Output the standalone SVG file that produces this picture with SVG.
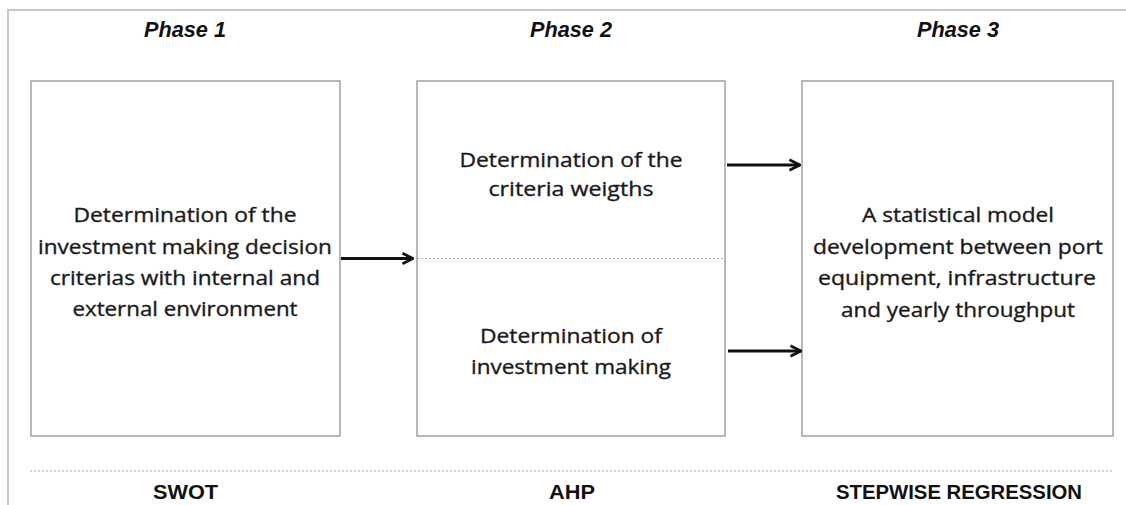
<svg xmlns="http://www.w3.org/2000/svg" width="1126" height="505" viewBox="0 0 1126 505">
<defs>
<style>
.frame{fill:none;stroke:#c8c8c8;stroke-width:2}
.box{fill:#fff;stroke:#9a9a9a;stroke-width:1.4}
.dot{stroke:#aaa;stroke-width:1;stroke-dasharray:2 2;fill:none}
.arrow{stroke:#111;stroke-width:3;fill:none;marker-end:url(#ah)}
.phase{font-family:"Liberation Sans",Arial,sans-serif;font-weight:bold;font-style:italic;font-size:22px;fill:#111;text-anchor:middle}
.body{font-family:"Open Sans","Liberation Sans",sans-serif;font-size:20px;fill:#1a1a1a;stroke:#1a1a1a;stroke-width:0.35;text-anchor:middle}
.method{font-family:"Liberation Sans",Arial,sans-serif;font-weight:bold;font-size:21px;fill:#111;text-anchor:middle}
</style>
<marker id="ah" viewBox="0 0 10 10" refX="9" refY="5" markerWidth="4.4" markerHeight="4.4" orient="auto" markerUnits="strokeWidth">
<path d="M1,1 L9,5 L1,9" fill="none" stroke="#111" stroke-width="2" stroke-linejoin="miter"/>
</marker>
</defs>
<rect width="1126" height="505" fill="#fff"/>
<path class="frame" d="M8,505 L8,10 L1126,10"/>
<g id="phase-labels">
<text class="phase" x="185" y="37" textLength="82" lengthAdjust="spacingAndGlyphs">Phase 1</text>
<text class="phase" x="571" y="37" textLength="82" lengthAdjust="spacingAndGlyphs">Phase 2</text>
<text class="phase" x="958" y="37" textLength="82" lengthAdjust="spacingAndGlyphs">Phase 3</text>
</g>
<g id="node-swot">
<rect class="box" x="31" y="81" width="309" height="355"/>
<text class="body" x="185" y="222" textLength="223" lengthAdjust="spacingAndGlyphs">Determination of the</text>
<text class="body" x="185" y="253.5" textLength="294" lengthAdjust="spacingAndGlyphs">investment making decision</text>
<text class="body" x="185" y="285" textLength="270" lengthAdjust="spacingAndGlyphs">criterias with internal and</text>
<text class="body" x="185" y="315.5" textLength="225" lengthAdjust="spacingAndGlyphs">external environment</text>
</g>
<g id="node-ahp">
<rect class="box" x="417" y="81" width="308" height="355"/>
<line class="dot" x1="417" y1="258.5" x2="725" y2="258.5"/>
<text class="body" x="571" y="166.5" textLength="223" lengthAdjust="spacingAndGlyphs">Determination of the</text>
<text class="body" x="571" y="196" textLength="165" lengthAdjust="spacingAndGlyphs">criteria weigths</text>
<text class="body" x="571" y="343" textLength="182" lengthAdjust="spacingAndGlyphs">Determination of</text>
<text class="body" x="571" y="373.5" textLength="200" lengthAdjust="spacingAndGlyphs">investment making</text>
</g>
<g id="node-regression">
<rect class="box" x="802" y="81" width="311" height="355"/>
<text class="body" x="958" y="222" textLength="192" lengthAdjust="spacingAndGlyphs">A statistical model</text>
<text class="body" x="958" y="253.5" textLength="290" lengthAdjust="spacingAndGlyphs">development between port</text>
<text class="body" x="957" y="285" textLength="278" lengthAdjust="spacingAndGlyphs">equipment, infrastructure</text>
<text class="body" x="958" y="316.5" textLength="234" lengthAdjust="spacingAndGlyphs">and yearly throughput</text>
</g>
<g id="connectors">
<line class="arrow" x1="341" y1="258.5" x2="413" y2="258.5"/>
<line class="arrow" x1="727" y1="165" x2="800" y2="165"/>
<line class="arrow" x1="728" y1="351" x2="801" y2="351"/>
</g>
<line class="dot" x1="30" y1="471" x2="1112" y2="471"/>
<g id="method-labels">
<text class="method" x="185.5" y="499" textLength="65" lengthAdjust="spacingAndGlyphs">SWOT</text>
<text class="method" x="572" y="499" textLength="46" lengthAdjust="spacingAndGlyphs">AHP</text>
<text class="method" x="959" y="499" textLength="246" lengthAdjust="spacingAndGlyphs">STEPWISE REGRESSION</text>
</g>
</svg>
